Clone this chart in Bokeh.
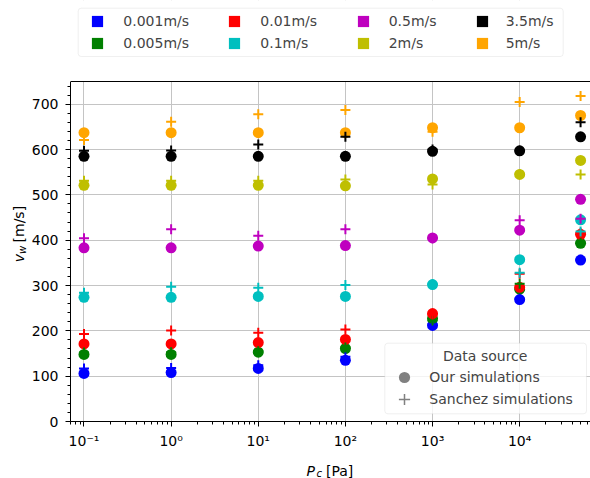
import math
from bokeh.plotting import figure
from bokeh.models import (Label, Legend, LegendItem, BoxAnnotation, FixedTicker, Span,
                          SingleIntervalTicker, Range1d)
from bokeh.layouts import column, row
from bokeh.core.properties import value
from bokeh.embed import file_html
from bokeh.resources import INLINE

# ---- data ----
pressure = [0.1, 1, 10, 100, 1000, 10000, 50000]
speed_labels = ["0.001m/s", "0.005m/s", "0.01m/s", "0.1m/s", "0.5m/s", "2m/s", "3.5m/s", "5m/s"]
colors = ["#0000ff", "#008000", "#ff0000", "#00bfbf", "#bf00bf", "#bfbf00", "#000000", "#ffa500"]

ours_0001 = [106, 108, 117, 135, 212, 269, 356]
ours_0005 = [148, 148, 153, 161, 227, 292, 393]
ours_001 = [171, 171, 174, 181, 238, 296, 413]
ours_01 = [274, 274, 276, 276, 302, 357, 445]
ours_05 = [383, 383, 387, 388, 405, 422, 490]
ours_2 = [521, 521, 521, 520, 535, 545, 576]
ours_35 = [585, 585, 585, 585, 596, 597, 628]
ours_5 = [637, 637, 637, 637, 648, 648, 675]

sanchez_0001 = [117, 118, 124, 143, 214, 271, 357]
sanchez_0005 = [152, 153, 155, 163, 223, 304, 395]
sanchez_001 = [193, 201, 196, 203, 236, 326, 416]
sanchez_01 = [284, 297, 295, 301, 303, 328, 419]
sanchez_05 = [404, 424, 410, 424, 404, 444, 447]
sanchez_2 = [531, 531, 531, 534, 523, 546, 545]
sanchez_35 = [597, 598, 611, 628, 600, 597, 660]
sanchez_5 = [621, 661, 678, 687, 639, 705, 718]

ours = [ours_0001, ours_0005, ours_001, ours_01, ours_05, ours_2, ours_35, ours_5]
sanchez = [sanchez_0001, sanchez_0005, sanchez_001, sanchez_01, sanchez_05, sanchez_2, sanchez_35, sanchez_5]

x_major_ticks = [0.1, 1, 10, 100, 1000, 10000]
x_tick_labels = ["10\u207b\u00b9", "10\u2070", "10\u00b9", "10\u00b2", "10\u00b3", "10\u2074"]
x_minor_ticks = [k * 10.0 ** e for e in range(-2, 5) for k in range(2, 10)
                 if 0.07 <= k * 10.0 ** e <= 65000]
y_max_axis = 750

FONT = "DejaVu Sans"

# ---- layout sizes (page pixels) ----
YLAB_W = 28            # strip holding the y-axis title
P_W, P_H = 590 - YLAB_W, 455
FRAME_LEFT = 69        # page x of the y axis
FRAME_BOTTOM = 421     # page y of the x axis

# ---- main figure (frame reaches to the top of the page; legend lives inside it) ----
p = figure(width=P_W, height=P_H, x_axis_type="log",
           x_range=Range1d(0.07, 65000), y_range=Range1d(0, y_max_axis * FRAME_BOTTOM / 340),
           output_backend="svg", toolbar_location=None,
           min_border_left=FRAME_LEFT - YLAB_W, min_border_right=0, min_border_top=0,
           min_border_bottom=P_H - FRAME_BOTTOM)
p.outline_line_color = None

p.xaxis.ticker = FixedTicker(ticks=x_major_ticks, minor_ticks=x_minor_ticks)
p.xaxis.major_label_overrides = {t: l for t, l in zip(x_major_ticks, x_tick_labels)}
p.yaxis.ticker = SingleIntervalTicker(interval=100, num_minor_ticks=5)
p.yaxis.bounds = (0, y_max_axis)
for ax in (p.xaxis[0], p.yaxis[0]):
    ax.axis_line_color = "black"
    ax.axis_line_width = 1
    ax.major_tick_in = 0
    ax.major_tick_out = 5
    ax.minor_tick_in = 0
    ax.minor_tick_out = 3
    ax.major_tick_line_color = "black"
    ax.minor_tick_line_color = "black"
    ax.major_label_text_font = FONT
    ax.major_label_text_font_size = "14px"
    ax.major_label_text_color = "black"
p.yaxis.major_label_standoff = 7
p.xaxis.major_label_standoff = 6

p.xgrid.grid_line_color = "#c4c4c4"
p.ygrid.grid_line_color = "#c4c4c4"
p.ygrid.bounds = (0, y_max_axis)

# data marks: circles first, then pluses
for vals, c in zip(ours, colors):
    p.scatter(x=pressure, y=vals, marker="circle", size=11, fill_color=c, line_color=None)
for vals, c in zip(sanchez, colors):
    p.scatter(x=pressure, y=vals, marker="cross", size=10, line_color=c, line_width=2)

# white area above the axes box, and its top spine
p.add_layout(BoxAnnotation(bottom=y_max_axis, fill_color="white", fill_alpha=1.0, line_color=None))
p.add_layout(Span(location=y_max_axis, dimension="width", line_color="black", line_width=1))

# legend frames (screen units relative to the frame's bottom-left corner)
def frame_box(left, right, top, bottom):
    return BoxAnnotation(left=left, right=right, top=top, bottom=bottom,
                         left_units="screen", right_units="screen",
                         top_units="screen", bottom_units="screen",
                         fill_color="white", fill_alpha=0.8, line_color="#cccccc",
                         line_width=1, border_radius=3)

p.add_layout(frame_box(76.7 - FRAME_LEFT, 561.7 - FRAME_LEFT, FRAME_BOTTOM - 7.7, FRAME_BOTTOM - 56))
p.add_layout(frame_box(383.3 - FRAME_LEFT, 585 - FRAME_LEFT, FRAME_BOTTOM - 342.7, FRAME_BOTTOM - 413.3))

def one_item_legend(label, renderer, cx, cy, standoff):
    # cx, cy: page position of the legend marker centre
    lg = Legend(items=[LegendItem(label=label, renderers=[renderer])],
                location=(cx - 14 - FRAME_LEFT, FRAME_BOTTOM - cy - 14),
                orientation="vertical", glyph_width=28, glyph_height=28, label_height=28,
                spacing=0, padding=0, margin=0, label_standoff=standoff,
                label_text_font=FONT, label_text_font_size="14px",
                border_line_color=None, background_fill_alpha=0)
    p.add_layout(lg)

# colour legend (4 columns x 2 rows)
col_cx = [96.3, 233.3, 361.7, 480.7]
col_standoff = [12, 12, 12, 10]
row_cy = [20.7, 42.7]
for k in range(8):
    ci, ri = k // 2, k % 2
    r = p.scatter(x=pressure, y=ours[k], marker="square", fill_color=colors[k],
                  line_color=None, visible=False)
    one_item_legend(speed_labels[k], r, col_cx[ci], row_cy[ri], col_standoff[ci])

# data-source legend
r_c = p.scatter(x=pressure, y=ours_5, marker="circle", fill_color="gray", line_color=None, visible=False)
r_p = p.scatter(x=pressure, y=sanchez_5, marker="cross", line_color="gray", line_width=1.5, visible=False)
one_item_legend("Our simulations", r_c, 403.3, 377.3, 11)
one_item_legend("Sanchez simulations", r_p, 403.3, 399.3, 11)
p.add_layout(Label(x=483.7 - FRAME_LEFT, y=FRAME_BOTTOM - 355, x_units="screen", y_units="screen",
                   text="Data source", text_align="center", text_baseline="middle",
                   text_font=FONT, text_font_size="14px"))

# ---- axis titles (separate small canvases so they are not clipped) ----
def text_canvas(w, h):
    f = figure(width=w, height=h, x_range=Range1d(0, w), y_range=Range1d(0, h),
               x_axis_location=None, y_axis_location=None, output_backend="svg",
               toolbar_location=None, min_border=0)
    f.xgrid.visible = False
    f.ygrid.visible = False
    f.outline_line_color = None
    return f

yfig = text_canvas(YLAB_W, P_H)
ylab_parts = [("v", 18.5, P_H - 283, "14px", "italic"),
              ("w", 21.5, P_H - 274, "10px", "italic"),
              ("[m/s]", 18.5, P_H - 261.5, "14px", "normal")]
for t, x, y, fs, st in ylab_parts:
    yfig.text(x=[x], y=[y], text=[t], angle=math.pi / 2, text_font=value(FONT),
              text_font_size=fs, text_font_style=st, text_align="left",
              text_baseline="alphabetic", text_color="black")

xfig = text_canvas(590, 478 - P_H)
xlab_parts = [("P", 306, 8, "14px", "italic"),
              ("c", 316, 5, "10px", "italic"),
              ("[Pa]", 325.5, 8, "14px", "normal")]
for t, x, y, fs, st in xlab_parts:
    xfig.text(x=[x], y=[y], text=[t], text_font=value(FONT), text_font_size=fs,
              text_font_style=st, text_align="left", text_baseline="alphabetic",
              text_color="black")

layout = column(row(yfig, p), xfig)
open("out.html", "w").write(file_html(layout, INLINE))
